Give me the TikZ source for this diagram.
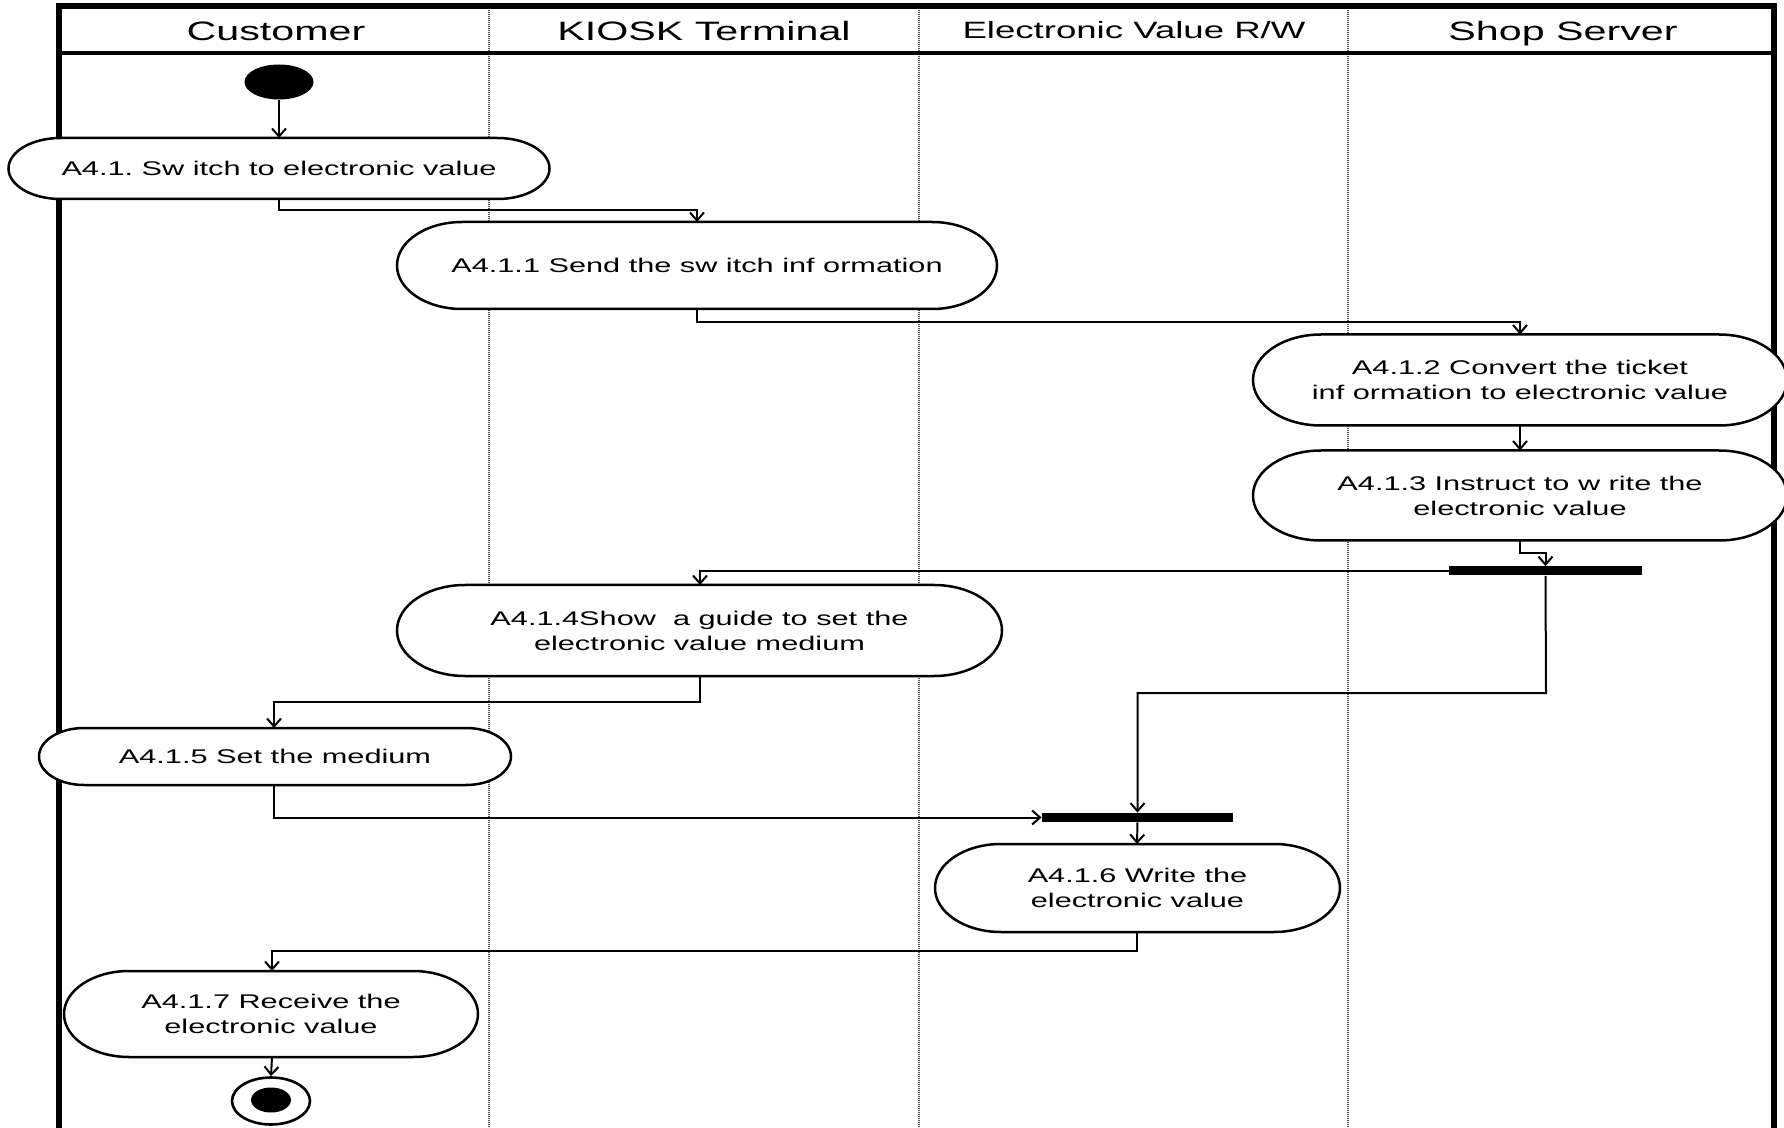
\documentclass[tikz,border=0pt]{standalone}
\usepackage{fontspec}
\usetikzlibrary{arrows.meta,shapes.geometric}
\newfontfamily\nf[FakeStretch=1.55]{Liberation Sans}
\frenchspacing
\newcommand\actv[7]{%
  \path[actshape] ({#2-#4/2+#6},{#3-#5/2}) -- ({#2+#4/2-#6},{#3-#5/2})
     arc[start angle=90,end angle=-90,x radius=#6*0.5pt,y radius=#5*0.25pt]
     -- ({#2-#4/2+#6},{#3+#5/2})
     arc[start angle=270,end angle=90,x radius=#6*0.5pt,y radius=#5*0.25pt] -- cycle;
  \node[acttext, minimum width=#4*0.5pt, minimum height=#5*0.5pt] (#1) at (#2,#3) {#7};
}
\begin{document}
\begin{tikzpicture}[x=0.5pt,y=-0.5pt,
  actshape/.style={draw=black,fill=white,line width=1.25pt},
  acttext/.style={inner sep=0pt,align=center,font=\nf\fontsize{9.9}{12.5}\selectfont\frenchspacing},
  headtext/.style={inner sep=0pt,anchor=base,font=\nf\fontsize{13.3}{15}\selectfont},
  bar/.style={fill=black,draw=none,inner sep=0pt,minimum height=4.5pt},
  flow/.style={line width=1pt,-{Straight Barb[length=4pt,width=7pt,line width=1pt]}},
  lane/.style={draw=black!70,line width=1.2pt,dash pattern=on 0.6pt off 0.4pt},
  frame/.style={line width=2.6pt,line join=miter}]
\useasboundingbox (0,0) rectangle (1784,1128);
% swimlanes
\draw[lane] (489,6) -- (489,1128);
\draw[lane] (919,6) -- (919,1128);
\draw[lane] (1348,6) -- (1348,1128);
\draw[frame] (59,1128) -- (59,6) -- (1774,6) -- (1774,1128);
\draw[line width=2pt] (59,53) -- (1774,53);
\node[headtext] (h1) at (276,41) {Customer};
\node[headtext] (h2) at (704,41) {KIOSK Terminal};
\node[headtext,font=\nf\fontsize{11.8}{13}\selectfont] (h3) at (1134,39) {Electronic Value R/W};
\node[headtext] (h4) at (1563,41) {Shop Server};
% start / end
\node[ellipse,fill=black,minimum width=34.5pt,minimum height=17.5pt,inner sep=0pt] (start) at (279,82) {};
\node[ellipse,draw=black,fill=white,line width=1.3pt,minimum width=39pt,minimum height=23.5pt,inner sep=0pt] (end) at (271,1101) {};
\node[ellipse,fill=black,minimum width=20pt,minimum height=12.5pt,inner sep=0pt] (endin) at (271,1100) {};
% bars
\node[bar,minimum width=96.5pt] (bar1) at (1545.5,571) {};
\node[bar,minimum width=95.5pt] (bar2) at (1137.5,817.5) {};
% connectors
\draw[flow] (start.south) -- (279,138);
\draw[flow] (279,199) -- (279,210) -| (697,222);
\draw[flow] (697,309) -- (697,322) -| (1520,334.5);
\draw[flow] (1520,425.5) -- (1520,450.5);
\draw[flow] (1520,540.5) -- (1520,553) -| (bar1.north);
\draw[flow] (bar1.west) -| (700,585);
\draw[flow] (bar1.south) -- (1546,693) -| (bar2.north);
\draw[flow] (700,676) -- (700,702) -| (274,728);
\draw[flow] (274,785) |- (bar2.west);
\draw[flow] (bar2.south) -- (1137,844);
\draw[flow] (1137,932) -- (1137,951) -| (272,971);
\draw[flow] (272,1057) -- (end.north);
% activities
\actv{a41}{279}{168.5}{541}{61}{52}{A4.1. Sw itch to electronic value}
\actv{a411}{697}{265.5}{600}{87}{65}{A4.1.1 Send the sw itch inf ormation}
\actv{a412}{1520}{380}{534}{91}{68}{A4.1.2 Convert the ticket\\inf ormation to electronic value}
\actv{a413}{1520}{495.5}{534}{90}{68}{A4.1.3 Instruct to w rite the\\electronic value}
\actv{a414}{699.5}{630.5}{605}{91}{68}{A4.1.4Show~ a guide to set the\\electronic value medium}
\actv{a415}{275}{756.5}{472}{57}{45}{A4.1.5 Set the medium}
\actv{a416}{1137.5}{888}{405}{88}{66}{A4.1.6 Write the\\electronic value}
\actv{a417}{271}{1014}{414}{86}{65}{A4.1.7 Receive the\\electronic value}
\end{tikzpicture}
\end{document}
